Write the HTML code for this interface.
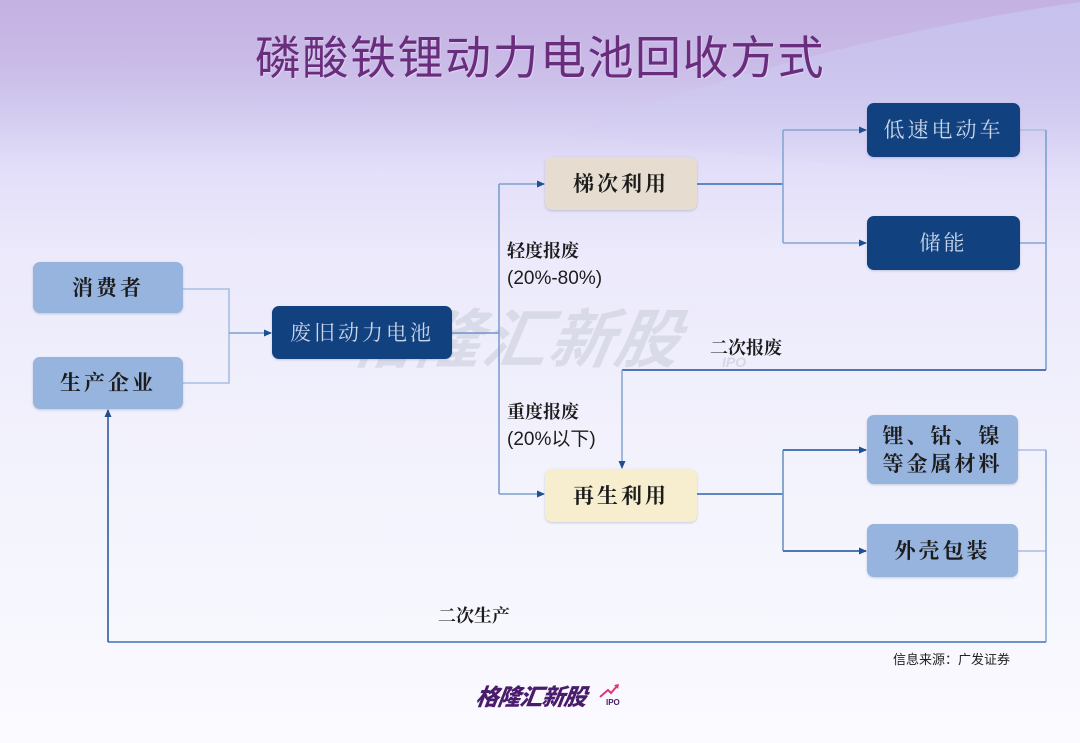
<!DOCTYPE html>
<html>
<head>
<meta charset="utf-8">
<style>
  html,body{margin:0;padding:0;}
  body{width:1080px;height:743px;overflow:hidden;position:relative;
    font-family:"Liberation Sans","Noto Sans CJK SC",sans-serif;
    background:linear-gradient(to bottom,#c4b2e2 0px,#c9bae7 60px,#d2caef 110px,#e3dff9 170px,#eceafb 260px,#f3f3fd 480px,#fafaff 743px);}
  .bg{position:absolute;left:0;top:0;}
  .title{position:absolute;left:0;width:1080px;top:30px;text-align:center;font-size:46px;letter-spacing:1.5px;color:#6a2c7c;
    font-family:"Liberation Sans","Noto Sans CJK SC",sans-serif;line-height:56px;text-shadow:1px 1px 1px rgba(255,255,255,0.35);}
  .wm{position:absolute;left:352px;top:297px;font-size:64px;font-weight:bold;font-style:italic;color:rgba(175,180,192,0.32);
    font-family:"Liberation Sans","Noto Sans CJK SC",sans-serif;letter-spacing:2px;transform:skewX(-10deg);line-height:86px;}
  .wmipo{position:absolute;left:722px;top:354px;font-size:14px;font-weight:bold;font-style:italic;color:rgba(175,180,192,0.4);}
  .box{position:absolute;border-radius:7px;display:flex;align-items:center;justify-content:center;text-align:center;
    font-family:"Liberation Serif","Noto Serif CJK SC",serif;font-size:21px;letter-spacing:3px;line-height:28px;
    box-shadow:0 1px 2px rgba(60,80,120,0.25);}
  .lb{background:#97b4de;color:#1c1c1c;font-weight:bold;}
  .db{background:#11427f;color:#c9d5ea;}
  .beige{background:#e6ddd0;color:#1c1c1c;font-weight:bold;}
  .yel{background:#f6eecf;color:#1c1c1c;font-weight:bold;}
  .lbl{position:absolute;font-family:"Liberation Serif","Noto Serif CJK SC",serif;font-size:18px;color:#1c1c1c;font-weight:bold;line-height:27px;}
  .pct{font-family:"Liberation Sans","Noto Sans CJK SC",sans-serif;font-weight:normal;font-size:19px;}
  .src{position:absolute;left:893px;top:649px;font-size:13px;color:#222;font-family:"Liberation Sans","Noto Sans CJK SC",sans-serif;}
  .logo{position:absolute;left:476px;top:683px;font-size:23px;font-weight:900;font-style:italic;color:#4a1c6c;letter-spacing:-1px;
    font-family:"Liberation Sans","Noto Sans CJK SC",sans-serif;line-height:28px;transform:skewX(-8deg);}
  .logoipo{position:absolute;left:606px;top:698px;font-size:8px;font-weight:bold;color:#4a1c6c;}
</style>
</head>
<body>
<svg class="bg" width="1080" height="743" viewBox="0 0 1080 743">
  <defs>
    <linearGradient id="wedge" x1="0" y1="0" x2="0" y2="1">
      <stop offset="0" stop-color="#c6c3ef" stop-opacity="0.9"/>
      <stop offset="1" stop-color="#d6d4f5" stop-opacity="0"/>
    </linearGradient>
  </defs>
  <path d="M1080 2 Q 820 40 560 135 L 1080 190 Z" fill="url(#wedge)"/>
</svg>

<div class="title">磷酸铁锂动力电池回收方式</div>

<div class="wm">格隆汇新股</div>
<div class="wmipo">IPO</div>

<svg class="bg" width="1080" height="743" viewBox="0 0 1080 743">
  <defs>
    <marker id="ar" markerWidth="8" markerHeight="8" refX="7" refY="4" orient="auto" markerUnits="userSpaceOnUse">
      <path d="M0,0.5 L8,4 L0,7.5 Z" fill="#1d4f91"/>
    </marker>
  </defs>
  <g fill="none" stroke-width="1.6">
    <polyline points="183,289 229,289 229,383 183,383" stroke="#a7bfe0"/>
    <line x1="229" y1="333" x2="271" y2="333" stroke="#7d9fcf" marker-end="url(#ar)"/>
    <line x1="452" y1="333" x2="499" y2="333" stroke="#6e93c8"/>
    <line x1="499" y1="184" x2="499" y2="494" stroke="#7d9fcf"/>
    <line x1="499" y1="184" x2="544" y2="184" stroke="#7d9fcf" marker-end="url(#ar)"/>
    <line x1="499" y1="494" x2="544" y2="494" stroke="#7d9fcf" marker-end="url(#ar)"/>
    <line x1="697" y1="184" x2="783" y2="184" stroke="#5f88c2" stroke-width="2"/>
    <line x1="783" y1="130" x2="783" y2="243" stroke="#86a6d2"/>
    <line x1="783" y1="130" x2="866" y2="130" stroke="#86a6d2" marker-end="url(#ar)"/>
    <line x1="783" y1="243" x2="866" y2="243" stroke="#86a6d2" marker-end="url(#ar)"/>
    <line x1="1020" y1="130" x2="1046" y2="130" stroke="#a7bfe0"/>
    <line x1="1020" y1="243" x2="1046" y2="243" stroke="#86a6d2"/>
    <line x1="1046" y1="130" x2="1046" y2="370" stroke="#7d9fcf"/>
    <line x1="1046" y1="370" x2="622" y2="370" stroke="#4f78b3" stroke-width="2"/>
    <line x1="622" y1="370" x2="622" y2="468" stroke="#8aa8d3" marker-end="url(#ar)"/>
    <line x1="697" y1="494" x2="783" y2="494" stroke="#5f88c2" stroke-width="2"/>
    <line x1="783" y1="450" x2="783" y2="551" stroke="#6e93c8"/>
    <line x1="783" y1="450" x2="866" y2="450" stroke="#4f78b3" stroke-width="2" marker-end="url(#ar)"/>
    <line x1="783" y1="551" x2="866" y2="551" stroke="#4f78b3" stroke-width="2" marker-end="url(#ar)"/>
    <line x1="1018" y1="450" x2="1046" y2="450" stroke="#a7bfe0"/>
    <line x1="1018" y1="551" x2="1046" y2="551" stroke="#a7bfe0"/>
    <line x1="1046" y1="450" x2="1046" y2="642" stroke="#8aa8d3"/>
    <line x1="1046" y1="642" x2="108" y2="642" stroke="#6e93c8" stroke-width="2"/>
    <line x1="108" y1="642" x2="108" y2="410" stroke="#2f5c9c" stroke-width="1.6" marker-end="url(#ar)"/>
  </g>
</svg>

<div class="box lb" style="left:33px;top:262px;width:150px;height:51px;">消费者</div>
<div class="box lb" style="left:33px;top:357px;width:150px;height:52px;">生产企业</div>
<div class="box db" style="left:272px;top:306px;width:180px;height:53px;">废旧动力电池</div>
<div class="box beige" style="left:545px;top:157px;width:152px;height:53px;">梯次利用</div>
<div class="box db" style="left:867px;top:103px;width:153px;height:54px;">低速电动车</div>
<div class="box db" style="left:867px;top:216px;width:153px;height:54px;">储能</div>
<div class="box yel" style="left:545px;top:469px;width:152px;height:53px;">再生利用</div>
<div class="box lb" style="left:867px;top:415px;width:151px;height:69px;">锂、钴、镍<br>等金属材料</div>
<div class="box lb" style="left:867px;top:524px;width:151px;height:53px;">外壳包装</div>

<div class="lbl" style="left:507px;top:238px;">轻度报废<br><span class="pct">(20%-80%)</span></div>
<div class="lbl" style="left:507px;top:399px;">重度报废<br><span class="pct">(20%以下)</span></div>
<div class="lbl" style="left:710px;top:335px;">二次报废</div>
<div class="lbl" style="left:438px;top:603px;">二次生产</div>

<div class="src">信息来源：广发证券</div>

<div class="logo">格隆汇新股</div>
<svg class="bg" width="1080" height="743" viewBox="0 0 1080 743">
  <path d="M600 697 L608 690 L611 693 L617 686" stroke="#e0357a" stroke-width="2" fill="none"/>
  <path d="M614 685 L619 684 L618 689 Z" fill="#e0357a"/>
</svg>
<div class="logoipo">IPO</div>
</body>
</html>
